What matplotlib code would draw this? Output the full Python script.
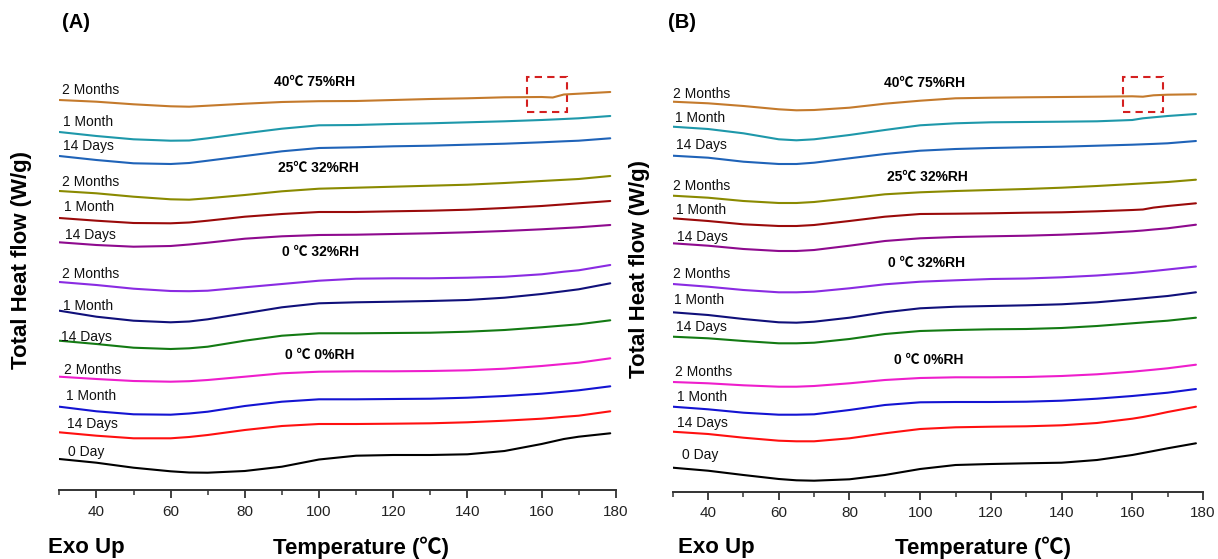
import matplotlib
matplotlib.use('Agg')
import matplotlib.pyplot as plt
from matplotlib.patches import Rectangle
from matplotlib.ticker import MultipleLocator, FixedLocator

plt.rcParams['font.family'] = ['Liberation Sans', 'Noto Sans CJK SC', 'DejaVu Sans']

# ---------------- data ----------------
temp_A = [30, 40, 50, 60, 65, 70, 80, 90, 100, 110, 120, 130, 140, 150, 160, 163, 166, 170, 178.5]
temp_B = [30, 40, 50, 60, 65, 70, 80, 90, 100, 110, 120, 130, 140, 150, 160, 163, 166, 170, 178]

curve_names = ['2 Months', '1 Month', '14 Days',
               '2 Months', '1 Month', '14 Days',
               '2 Months', '1 Month', '14 Days',
               '2 Months', '1 Month', '14 Days',
               '0 Day']
curve_colors = ['#C47A2C', '#1E98AA', '#1F63B8',
                '#8A8A00', '#9A0A0A', '#8E0A8E',
                '#8A2BE2', '#10107A', '#137A13',
                '#EE1ECC', '#1414D2', '#FF1010',
                '#000000']
group_titles = ['40\u2103 75%RH', '25\u2103 32%RH', '0 \u2103 32%RH', '0 \u2103 0%RH']
x_ticks = [40, 60, 80, 100, 120, 140, 160, 180]

# Panel A (total heat flow, stacked, arbitrary offset units)
A_40_2m = [3.900, 3.883, 3.857, 3.837, 3.833, 3.843, 3.863, 3.880, 3.888, 3.890, 3.900, 3.910, 3.917, 3.927, 3.930, 3.925, 3.955, 3.963, 3.980]
A_40_1m = [3.580, 3.540, 3.507, 3.493, 3.495, 3.517, 3.567, 3.613, 3.647, 3.650, 3.660, 3.667, 3.677, 3.687, 3.700, 3.705, 3.710, 3.717, 3.740]
A_40_14d = [3.340, 3.300, 3.267, 3.260, 3.270, 3.293, 3.340, 3.387, 3.420, 3.427, 3.437, 3.443, 3.453, 3.463, 3.477, 3.482, 3.487, 3.493, 3.517]
A_25_2m = [2.990, 2.967, 2.933, 2.907, 2.903, 2.917, 2.950, 2.987, 3.013, 3.023, 3.033, 3.043, 3.053, 3.070, 3.090, 3.096, 3.102, 3.110, 3.140]
A_25_1m = [2.720, 2.693, 2.670, 2.667, 2.675, 2.693, 2.733, 2.760, 2.780, 2.780, 2.787, 2.793, 2.803, 2.820, 2.840, 2.848, 2.856, 2.867, 2.890]
A_25_14d = [2.477, 2.450, 2.433, 2.440, 2.455, 2.473, 2.513, 2.537, 2.550, 2.553, 2.560, 2.567, 2.577, 2.590, 2.607, 2.613, 2.619, 2.627, 2.650]
A_0w_2m = [2.080, 2.050, 2.013, 1.990, 1.988, 1.993, 2.027, 2.060, 2.093, 2.113, 2.117, 2.117, 2.123, 2.133, 2.157, 2.170, 2.183, 2.197, 2.250]
A_0w_1m = [1.793, 1.733, 1.693, 1.677, 1.685, 1.707, 1.767, 1.827, 1.867, 1.877, 1.883, 1.890, 1.900, 1.923, 1.960, 1.974, 1.988, 2.007, 2.067]
A_0w_14d = [1.493, 1.460, 1.423, 1.410, 1.417, 1.433, 1.493, 1.543, 1.567, 1.567, 1.570, 1.573, 1.583, 1.600, 1.627, 1.636, 1.645, 1.657, 1.697]
A_0d_2m = [1.133, 1.110, 1.090, 1.083, 1.088, 1.100, 1.133, 1.167, 1.183, 1.187, 1.187, 1.190, 1.197, 1.213, 1.240, 1.250, 1.260, 1.273, 1.317]
A_0d_1m = [0.833, 0.787, 0.757, 0.753, 0.765, 0.783, 0.840, 0.883, 0.907, 0.907, 0.910, 0.913, 0.923, 0.940, 0.963, 0.973, 0.983, 0.997, 1.037]
A_0d_14d = [0.577, 0.543, 0.517, 0.517, 0.530, 0.550, 0.600, 0.640, 0.660, 0.660, 0.663, 0.667, 0.677, 0.693, 0.713, 0.722, 0.732, 0.743, 0.787]
A_0day = [0.310, 0.273, 0.223, 0.187, 0.175, 0.173, 0.190, 0.233, 0.305, 0.343, 0.350, 0.350, 0.357, 0.390, 0.460, 0.485, 0.510, 0.533, 0.567]

# Panel B
B_40_2m = [3.898, 3.882, 3.855, 3.822, 3.812, 3.815, 3.838, 3.878, 3.908, 3.932, 3.938, 3.942, 3.945, 3.948, 3.952, 3.948, 3.962, 3.968, 3.972]
B_40_1m = [3.648, 3.625, 3.582, 3.522, 3.512, 3.522, 3.565, 3.615, 3.662, 3.682, 3.692, 3.695, 3.698, 3.702, 3.715, 3.732, 3.742, 3.755, 3.775]
B_40_14d = [3.358, 3.338, 3.298, 3.275, 3.275, 3.288, 3.332, 3.375, 3.408, 3.425, 3.435, 3.442, 3.448, 3.458, 3.468, 3.472, 3.476, 3.482, 3.505]
B_25_2m = [2.958, 2.938, 2.905, 2.885, 2.885, 2.895, 2.932, 2.972, 2.992, 3.005, 3.015, 3.025, 3.038, 3.055, 3.075, 3.081, 3.087, 3.095, 3.118]
B_25_1m = [2.732, 2.705, 2.672, 2.655, 2.655, 2.665, 2.705, 2.748, 2.775, 2.778, 2.782, 2.788, 2.792, 2.802, 2.815, 2.820, 2.839, 2.855, 2.882]
B_25_14d = [2.482, 2.458, 2.425, 2.405, 2.405, 2.415, 2.458, 2.505, 2.532, 2.545, 2.552, 2.558, 2.568, 2.582, 2.602, 2.610, 2.620, 2.632, 2.668]
B_0w_2m = [2.075, 2.048, 2.015, 1.992, 1.992, 1.998, 2.032, 2.072, 2.098, 2.112, 2.125, 2.130, 2.142, 2.160, 2.185, 2.195, 2.205, 2.220, 2.250]
B_0w_1m = [1.792, 1.765, 1.725, 1.692, 1.688, 1.698, 1.738, 1.792, 1.832, 1.848, 1.855, 1.862, 1.872, 1.892, 1.922, 1.932, 1.942, 1.955, 1.992]
B_0w_14d = [1.548, 1.532, 1.505, 1.482, 1.482, 1.488, 1.525, 1.575, 1.605, 1.615, 1.622, 1.625, 1.635, 1.655, 1.682, 1.690, 1.698, 1.708, 1.738]
B_0d_2m = [1.095, 1.082, 1.062, 1.048, 1.048, 1.055, 1.082, 1.115, 1.135, 1.142, 1.142, 1.145, 1.155, 1.172, 1.198, 1.208, 1.218, 1.232, 1.268]
B_0d_1m = [0.848, 0.822, 0.788, 0.768, 0.768, 0.772, 0.815, 0.865, 0.892, 0.895, 0.895, 0.898, 0.908, 0.928, 0.955, 0.965, 0.975, 0.988, 1.025]
B_0d_14d = [0.598, 0.575, 0.538, 0.508, 0.502, 0.502, 0.532, 0.582, 0.625, 0.642, 0.648, 0.652, 0.662, 0.685, 0.728, 0.745, 0.765, 0.795, 0.848]
B_0day = [0.238, 0.208, 0.165, 0.125, 0.112, 0.108, 0.122, 0.165, 0.225, 0.265, 0.275, 0.282, 0.288, 0.315, 0.365, 0.385, 0.405, 0.432, 0.482]

series_A = [A_40_2m, A_40_1m, A_40_14d, A_25_2m, A_25_1m, A_25_14d,
            A_0w_2m, A_0w_1m, A_0w_14d, A_0d_2m, A_0d_1m, A_0d_14d, A_0day]
series_B = [B_40_2m, B_40_1m, B_40_14d, B_25_2m, B_25_1m, B_25_14d,
            B_0w_2m, B_0w_1m, B_0w_14d, B_0d_2m, B_0d_1m, B_0d_14d, B_0day]

# label anchor positions (temperature, level)
label_x_A = [30.6, 30.9, 30.9, 30.6, 31.3, 31.5, 30.6, 30.9, 30.4, 31.3, 31.8, 32.0, 32.4]
label_y_A = [4.00, 3.683, 3.44, 3.083, 2.827, 2.55, 2.16, 1.843, 1.533, 1.20, 0.94, 0.66, 0.38]
label_x_B = [30.2, 30.6, 30.9, 30.2, 30.9, 31.1, 30.0, 30.4, 30.9, 30.7, 31.1, 31.3, 32.5]
label_y_B = [3.975, 3.732, 3.465, 3.055, 2.815, 2.548, 2.175, 1.915, 1.648, 1.192, 0.945, 0.682, 0.365]
title_xy_A = [(98.7, 4.077), (99.7, 3.223), (100.3, 2.383), (100.3, 1.35)]
title_xy_B = [(101.2, 4.088), (102.0, 3.148), (101.7, 2.282), (102.3, 1.315)]
box_A = (156.1, 3.783, 166.8, 4.133)
box_B = (157.5, 3.798, 168.6, 4.142)

# ---------------- figure ----------------
W, H = 1218, 559
fig = plt.figure(figsize=(W / 100, H / 100), dpi=100)


def panel(rect, ylim_top, temps, series, lx, ly, txy, box, letter, letter_xy,
          ylab_xy, exo_xy, xlab_xy):
    ax = fig.add_axes(rect)
    for vals, col in zip(series, curve_colors):
        ax.plot(temps, vals, color=col, lw=1.5, solid_capstyle='round',
                solid_joinstyle='round')
    for name, x, y in zip(curve_names, lx, ly):
        ax.text(x, y, name, fontsize=10, ha='left', va='center', color='#111111')
    for t, (x, y) in zip(group_titles, txy):
        ax.text(x, y, t, fontsize=10, fontweight='bold', ha='center', va='center')
    x0, y0, x1, y1 = box
    ax.add_patch(Rectangle((x0, y0), x1 - x0, y1 - y0, fill=False,
                           edgecolor='#D42020', lw=1.5, ls=(0, (3.5, 2.5))))
    ax.set_xlim(30, 180)
    ax.set_ylim(0, ylim_top)
    for s in ['left', 'right', 'top']:
        ax.spines[s].set_visible(False)
    ax.spines['bottom'].set_linewidth(1.4)
    ax.spines['bottom'].set_color('#333333')
    ax.set_yticks([])
    ax.xaxis.set_major_locator(FixedLocator(x_ticks))
    ax.xaxis.set_minor_locator(MultipleLocator(10))
    ax.tick_params(axis='x', which='major', direction='out', length=6, width=1.3,
                   labelsize=11, pad=4.5, color='#333333', labelcolor='#222222')
    ax.tick_params(axis='x', which='minor', direction='out', length=3.5, width=1.1,
                   color='#333333')
    ax.patch.set_alpha(0)
    fig.text(letter_xy[0] / W, 1 - letter_xy[1] / H, letter, fontsize=14.5,
             fontweight='bold', ha='center', va='center')
    fig.text(ylab_xy[0] / W, 1 - ylab_xy[1] / H, 'Total Heat flow (W/g)', fontsize=16,
             fontweight='bold', rotation=90, ha='center', va='center')
    fig.text(exo_xy[0] / W, 1 - exo_xy[1] / H, 'Exo Up', fontsize=16,
             fontweight='bold', ha='center', va='center')
    fig.text(xlab_xy[0] / W, 1 - xlab_xy[1] / H, 'Temperature (\u2103)', fontsize=16,
             fontweight='bold', ha='center', va='center')
    return ax


panel([59.3 / W, (H - 490) / H, (615.8 - 59.3) / W, 420 / H], 4.2,
      temp_A, series_A, label_x_A, label_y_A, title_xy_A, box_A,
      '(A)', (76, 22), (22, 260), (86, 548), (361, 548))
panel([672.7 / W, (H - 491.5) / H, (1203.0 - 672.7) / W, 421.5 / H], 4.215,
      temp_B, series_B, label_x_B, label_y_B, title_xy_B, box_B,
      '(B)', (682, 22), (640, 269), (716, 548), (983, 548))

fig.savefig('out.png', dpi=100)
